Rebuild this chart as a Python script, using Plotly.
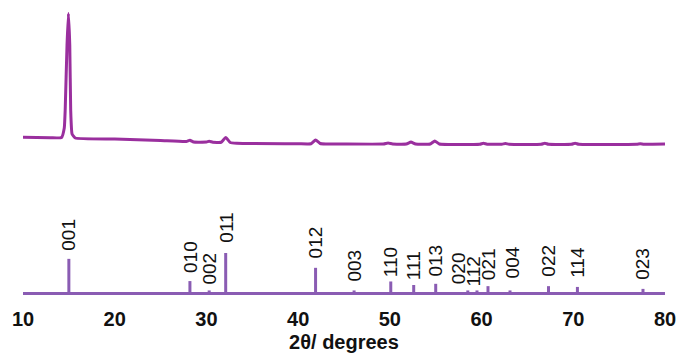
import plotly.graph_objects as go

# Measured XRD pattern (2θ in degrees, intensity in counts)
pattern_2theta = [10, 13, 14.2, 14.5, 14.6, 14.8, 14.95, 15.1, 15.2, 15.35, 15.7,
                  20, 25, 27.8, 28.2, 28.6, 30.0, 30.3, 30.7, 31.6, 32.1, 32.6, 33.3,
                  40, 41.4, 41.9, 42.4, 43, 44.6, 49.3, 49.8, 50.3, 51.8, 52.3, 52.8,
                  54.4, 54.9, 55.4, 59.8, 60.2, 60.6, 62.2, 62.6, 63.0, 66.5, 66.9, 67.3,
                  69.8, 70.2, 70.6, 76.9, 77.3, 77.7, 80]
pattern_counts = [300, 297, 298, 374, 518, 1038, 1291, 1038, 518, 326, 294,
                  286, 274, 266, 276, 262, 262, 268, 260, 260, 298, 258, 252,
                  248, 248, 278, 250, 246, 246, 246, 254, 246, 246, 262, 246,
                  246, 270, 246, 244, 252, 244, 244, 250, 244, 244, 252, 244,
                  244, 252, 244, 244, 248, 244, 246]

# Reference reflections
ref_2theta = [15.0, 28.2, 30.3, 32.1, 41.9, 46.1, 50.1, 52.6, 55.0, 58.5, 59.5,
              60.7, 63.1, 67.3, 70.45, 77.6]
ref_hkl = ["001", "010", "002", "011", "012", "003", "110", "111", "013", "020",
           "112", "021", "004", "022", "114", "023"]
ref_intensity = [85, 28, 4, 100, 62, 4, 27, 18, 21, 4, 4, 15, 4, 15, 13, 8]

x_ticks = [10, 20, 30, 40, 50, 60, 70, 80]

# label placement tweaks (pixels)
label_gap = [6, 6, 4, 8, 7, 7, 2, 3, 5, 4, 2, 4, 10, 7, 7, 7]
label_dx = [0, 0, 0, 0, 0, 0, 0, 0, 0, -9, -4, 0, 2, 0, 0, 0]

PATTERN_COLOR = "#9a2f9e"
STICK_COLOR = "#8a5cb3"
FONT = "Arial, Liberation Sans, sans-serif"

fig = go.Figure()

fig.add_trace(go.Scatter(
    x=pattern_2theta, y=pattern_counts, mode="lines",
    line=dict(color=PATTERN_COLOR, width=3, shape="spline", smoothing=0.4),
    yaxis="y2", hoverinfo="skip", showlegend=False,
))

stick_x, stick_y = [], []
for tt, inten in zip(ref_2theta, ref_intensity):
    stick_x += [tt, tt, None]
    stick_y += [0, inten, None]
fig.add_trace(go.Scatter(
    x=stick_x, y=stick_y, mode="lines",
    line=dict(color=STICK_COLOR, width=3),
    hoverinfo="skip", showlegend=False,
))

for tt, inten, hkl, gap, dx in zip(ref_2theta, ref_intensity, ref_hkl, label_gap, label_dx):
    fig.add_annotation(
        x=tt, y=inten, text=hkl, textangle=-90, showarrow=False,
        xanchor="center", yanchor="bottom", yshift=gap, xshift=dx,
        font=dict(family=FONT, size=19, color="#111111"),
    )

fig.update_layout(
    width=678, height=355,
    margin=dict(l=23, r=13, t=0, b=63),
    paper_bgcolor="white", plot_bgcolor="white",
    xaxis=dict(
        range=[10, 80], tickvals=x_ticks, ticktext=[str(v) for v in x_ticks],
        showgrid=False, zeroline=False, showline=True,
        linecolor=STICK_COLOR, linewidth=3, ticks="", ticklabelstandoff=7,
        tickfont=dict(family=FONT, size=20, color="#111111", weight="bold"),
        title=dict(text="2θ/ degrees", standoff=6,
                   font=dict(family=FONT, size=20, color="#111111", weight="bold")),
    ),
    yaxis=dict(range=[0, 748.7], visible=False, fixedrange=True),
    yaxis2=dict(range=[-938, 1398], overlaying="y", visible=False),
)

fig.write_html("out.html")
